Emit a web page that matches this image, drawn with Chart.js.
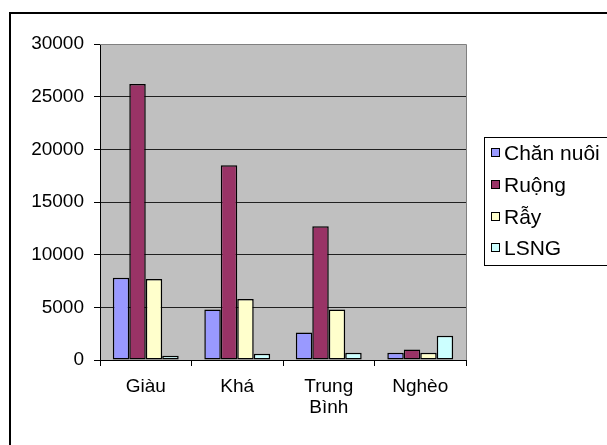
<!DOCTYPE html>
<html>
<head>
<meta charset="utf-8">
<script src="https://cdn.jsdelivr.net/npm/chart.js@4/dist/chart.umd.min.js"></script>
<style>
  html, body { margin: 0; padding: 0; background: #ffffff; }
  canvas { display: block; }
</style>
</head>
<body>
<canvas id="chart" width="607" height="445"></canvas>
<script>
// Household groups and income sources
const categories = ['Giàu', 'Khá', ['Trung', 'Bình'], 'Nghèo'];
const seriesNames = ['Chăn nuôi', 'Ruộng', 'Rẫy', 'LSNG'];
const chanNuoi = [7800, 4800, 2600, 700];
const ruong = [26200, 18500, 12700, 1000];
const ray = [7700, 5800, 4800, 700];
const lsng = [400, 600, 700, 2300];
const yTicks = [0, 5000, 10000, 15000, 20000, 25000, 30000];

const colors = ['#9999FF', '#993366', '#FFFFCC', '#CCFFFF'];
const FONT = "'Liberation Sans', Arial, sans-serif";

// Grey plot area, outer frame, plot edges and the boxed legend
const framePlugin = {
  id: 'frame',
  beforeDraw(chart) {
    const { ctx, chartArea: a } = chart;
    ctx.save();
    ctx.fillStyle = '#C0C0C0';
    ctx.fillRect(a.left, a.top, a.right - a.left, a.bottom - a.top);
    ctx.restore();
  },
  afterDraw(chart) {
    const { ctx, chartArea: a } = chart;
    ctx.save();
    // outer frame
    ctx.strokeStyle = '#000';
    ctx.lineWidth = 2;
    ctx.strokeRect(10, 13, chart.width + 20, chart.height + 20);
    // plot area top / right edges
    ctx.strokeStyle = '#808080';
    ctx.lineWidth = 1;
    ctx.beginPath();
    ctx.moveTo(a.left, a.top + 0.5);
    ctx.lineTo(a.right + 0.5, a.top + 0.5);
    ctx.lineTo(a.right + 0.5, a.bottom);
    ctx.stroke();

    // legend
    const lx = 484, ly = 137, lh = 128;
    ctx.strokeStyle = '#000';
    ctx.strokeRect(lx + 0.5, ly + 0.5, chart.width, lh);
    ctx.font = '21px ' + FONT;
    ctx.textBaseline = 'middle';
    ctx.textAlign = 'left';
    const rows = [153, 185, 217, 248];
    chart.data.datasets.forEach((ds, i) => {
      const cy = rows[i];
      ctx.fillStyle = ds.backgroundColor;
      ctx.fillRect(491.5, cy - 4.5, 8, 8);
      ctx.strokeStyle = '#000';
      ctx.strokeRect(491.5, cy - 4.5, 8, 8);
      ctx.fillStyle = '#000';
      ctx.fillText(ds.label, 504, cy + 1);
    });
    ctx.restore();
  }
};

const datasets = [chanNuoi, ruong, ray, lsng].map((values, i) => ({
  label: seriesNames[i],
  data: values,
  backgroundColor: colors[i],
  borderColor: '#000000',
  borderWidth: 1.5,
  borderSkipped: false,
  categoryPercentage: 0.72,
  barPercentage: 1.0
}));

new Chart(document.getElementById('chart'), {
  type: 'bar',
  data: { labels: categories, datasets },
  plugins: [framePlugin],
  options: {
    responsive: false,
    animation: false,
    devicePixelRatio: 1,
    layout: { padding: { left: 0, top: 44, right: 141, bottom: 0 } },
    plugins: { legend: { display: false }, tooltip: { enabled: false } },
    scales: {
      x: {
        grid: {
          offset: true,
          drawOnChartArea: false,
          drawTicks: true,
          tickLength: 6,
          color: '#000'
        },
        border: { display: true, color: '#000', width: 1 },
        ticks: {
          color: '#000',
          padding: 10,
          font: { family: FONT, size: 19, lineHeight: 1.1 },
          maxRotation: 0,
          autoSkip: false
        },
        afterFit(scale) {
          scale.height = 85;
          scale.paddingLeft = 0;
          scale.paddingRight = 0;
        }
      },
      y: {
        min: 0,
        max: 30000,
        afterBuildTicks(scale) {
          scale.ticks = yTicks.map(v => ({ value: v }));
        },
        grid: {
          color: ctx => (ctx.tick && ctx.tick.value === 30000 ? '#808080' : '#202020'),
          tickColor: '#000',
          tickLength: 6,
          drawTicks: true
        },
        border: { display: true, color: '#000', width: 1 },
        ticks: {
          color: '#000',
          padding: 10,
          font: { family: FONT, size: 19 },
          callback: v => String(v)
        },
        afterFit(scale) {
          scale.width = 100;
          scale.paddingTop = 0;
          scale.paddingBottom = 0;
        }
      }
    }
  }
});
</script>
</body>
</html>
